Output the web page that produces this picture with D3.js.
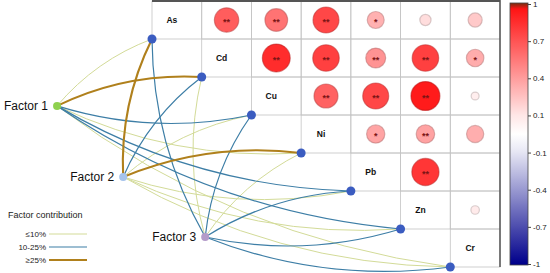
<!DOCTYPE html>
<html>
<head>
<meta charset="utf-8">
<script src="https://cdn.jsdelivr.net/npm/d3@7"></script>
<style>
body { margin: 0; background: #fff; }
svg text { font-family: "Liberation Sans", Arial, sans-serif; }
</style>
</head>
<body>
<div class="chart"></div>
<script>
/* The data */
//Elements on the diagonal of the correlation matrix
const elements = ["As", "Cd", "Cu", "Ni", "Pb", "Zn", "Cr"];

//Upper triangle of the correlation matrix, row by row (null = lower triangle)
const corrValues = [
    [null, 0.66, 0.57, 0.75, 0.32, 0.14, 0.22],
    [null, null, 0.86, 0.78, 0.44, 0.78, 0.34],
    [null, null, null, 0.64, 0.75, 0.93, 0.07],
    [null, null, null, null, 0.37, 0.38, 0.33],
    [null, null, null, null, null, 0.82, 0.00],
    [null, null, null, null, null, null, 0.08],
    [null, null, null, null, null, null, null]
];

//Significance marks for the same cells
const corrSignif = [
    ["", "**", "**", "**", "*", "", ""],
    ["", "", "**", "**", "**", "**", "*"],
    ["", "", "", "**", "**", "**", ""],
    ["", "", "", "", "*", "**", ""],
    ["", "", "", "", "", "**", ""],
    ["", "", "", "", "", "", ""],
    ["", "", "", "", "", "", ""]
];

//Factors and their contribution class to every element
const factors = ["Factor 1", "Factor 2", "Factor 3"];
const contribLevels = ["≤10%", "10-25%", "≥25%"];
const contribution = [
    ["≤10%", "≥25%", "10-25%", "≤10%", "10-25%", "10-25%", "≤10%"],
    ["≥25%", "10-25%", "≤10%", "≥25%", "≤10%", "≤10%", "≤10%"],
    ["10-25%", "≤10%", "10-25%", "≤10%", "10-25%", "10-25%", "10-25%"]
];

//Colour bar tick labels
const barTicks = [1, 0.7, 0.4, 0.1, -0.1, -0.4, -0.7, -1];


/* The View */
function CorrNetworkView(element, configuration) {
    //Set the element to draw to
    this.root = element;
    this.configuration = configuration;

    //Matrix units -> pixels (one unit = one cell)
    var m = configuration.matrix;
    this.col = d3.scaleLinear().domain([0, elements.length]).range([m.left, m.right]);
    this.row = d3.scaleLinear().domain([0, elements.length]).range([m.top, m.bottom]);

    //Circle size and colour
    this.radius = d3.scaleSqrt().domain([0, 1]).range([0, 15]);
    this.color = d3.scaleLinear()
        .domain([-1, 0, 0.96, 1])
        .range(["#00008b", "#ffffff", "#ff1414", "#8b2a10"]);
}

CorrNetworkView.prototype.render = function() {
    this.renderCanvas();
    this.renderMatrix();
    this.renderLinks();
    this.renderNodes();
    this.renderLegend();
    this.renderColorBar();
}

CorrNetworkView.prototype.renderCanvas = function() {
    this.svg = d3.select(this.root)
        .append("svg")
            .attr("width", this.configuration.width)
            .attr("height", this.configuration.height)
            .style("background-color", "#FFF");
}

CorrNetworkView.prototype.renderMatrix = function() {
    var self = this;
    var m = this.configuration.matrix;
    var cw = this.col(1) - this.col(0);
    var ch = this.row(1) - this.row(0);

    //Upper triangle cells (diagonal included)
    var cells = [];
    elements.forEach(function(a, i) {
        elements.forEach(function(b, j) {
            if (j >= i) cells.push({ i: i, j: j, v: corrValues[i][j], s: corrSignif[i][j] });
        });
    });

    var g = this.svg.append("g");

    g.selectAll("rect.cell")
        .data(cells)
        .join("rect")
            .attr("class", "cell")
            .attr("x", d => self.col(d.j))
            .attr("y", d => self.row(d.i))
            .attr("width", cw)
            .attr("height", ch)
            .attr("fill", "none")
            .attr("stroke", "#c4c4c4")
            .attr("stroke-width", 0.8);

    //Outer frame on top and right
    g.append("line")
        .attr("x1", m.left).attr("x2", m.right)
        .attr("y1", m.top).attr("y2", m.top)
        .attr("stroke", "#555").attr("stroke-width", 2);
    g.append("line")
        .attr("x1", m.right).attr("x2", m.right)
        .attr("y1", 0).attr("y2", m.bottom)
        .attr("stroke", "#555").attr("stroke-width", 1.5);

    //Circles
    var off = cells.filter(d => d.j > d.i && d.v);
    g.selectAll("circle.corr")
        .data(off)
        .join("circle")
            .attr("class", "corr")
            .attr("cx", d => self.col(d.j + 0.5))
            .attr("cy", d => self.row(d.i + 0.5))
            .attr("r", d => self.radius(Math.abs(d.v)))
            .attr("fill", d => self.color(d.v))
            .attr("stroke", d => d3.color(self.color(d.v)).darker(0.9))
            .attr("stroke-opacity", 0.55)
            .attr("stroke-width", 1.2);

    g.selectAll("text.sig")
        .data(off.filter(d => d.s))
        .join("text")
            .attr("class", "sig")
            .attr("x", d => self.col(d.j + 0.5))
            .attr("y", d => self.row(d.i + 0.5) + 5)
            .attr("text-anchor", "middle")
            .attr("font-size", 9)
            .attr("font-weight", "bold")
            .attr("fill", "#7a1414")
            .text(d => d.s);

    //Diagonal labels
    g.selectAll("text.diag")
        .data(elements)
        .join("text")
            .attr("class", "diag")
            .attr("x", (d, i) => self.col(i + 0.5) - 5)
            .attr("y", (d, i) => self.row(i + 0.5))
            .attr("dy", "0.35em")
            .attr("text-anchor", "middle")
            .attr("font-size", 8.5)
            .attr("font-weight", "bold")
            .attr("fill", "#111")
            .text(d => d);
}

CorrNetworkView.prototype.elementPos = function(i) {
    //Element node sits at the bottom-left corner of its diagonal cell
    return [this.col(i), this.row(i + 1)];
}

CorrNetworkView.prototype.factorPos = function(k) {
    var a = this.configuration.factorAnchor[k];
    return [this.col(a[0]), this.row(a[1])];
}

CorrNetworkView.prototype.renderLinks = function() {
    var self = this;
    var styles = this.configuration.linkStyles;

    var links = [];
    factors.forEach(function(f, k) {
        elements.forEach(function(e, i) {
            links.push({ k: k, i: i, level: contribLevels.indexOf(contribution[k][i]) });
        });
    });
    //Stronger links on top
    links.sort((a, b) => a.level - b.level);

    function curve(d) {
        var p0 = self.factorPos(d.k), p1 = self.elementPos(d.i);
        var dx = p1[0] - p0[0], dy = p1[1] - p0[1];
        //Bend upwards when the target rises, downwards otherwise
        var s = dy < -0.1 * Math.abs(dx) ? 1 : -1;
        var k = 0.13 * s;
        var cx = (p0[0] + p1[0]) / 2 + k * dy;
        var cy = (p0[1] + p1[1]) / 2 - k * dx;
        var path = d3.path();
        path.moveTo(p0[0], p0[1]);
        path.quadraticCurveTo(cx, cy, p1[0], p1[1]);
        return path.toString();
    }

    this.svg.append("g")
        .selectAll("path")
        .data(links)
        .join("path")
            .attr("d", curve)
            .attr("fill", "none")
            .attr("stroke", d => styles[d.level].color)
            .attr("stroke-width", d => styles[d.level].width);
}

CorrNetworkView.prototype.renderNodes = function() {
    var self = this;
    var cfg = this.configuration;
    var g = this.svg.append("g");

    g.selectAll("circle.el")
        .data(elements)
        .join("circle")
            .attr("class", "el")
            .attr("cx", (d, i) => self.elementPos(i)[0])
            .attr("cy", (d, i) => self.elementPos(i)[1])
            .attr("r", 4.5)
            .attr("fill", "#3b5cc0");

    g.selectAll("circle.fac")
        .data(factors)
        .join("circle")
            .attr("class", "fac")
            .attr("cx", (d, k) => self.factorPos(k)[0])
            .attr("cy", (d, k) => self.factorPos(k)[1])
            .attr("r", 4)
            .attr("fill", (d, k) => cfg.factorColors[k]);

    g.selectAll("text.fac")
        .data(factors)
        .join("text")
            .attr("class", "fac")
            .attr("x", (d, k) => self.factorPos(k)[0] - 9)
            .attr("y", (d, k) => self.factorPos(k)[1])
            .attr("dy", "0.35em")
            .attr("text-anchor", "end")
            .attr("font-size", 12)
            .attr("fill", "#111")
            .text(d => d);
}

CorrNetworkView.prototype.renderLegend = function() {
    var styles = this.configuration.linkStyles;
    var g = this.svg.append("g");

    g.append("text")
        .attr("x", 8)
        .attr("y", 218)
        .attr("font-size", 9)
        .attr("fill", "#222")
        .text("Factor contribution");

    var item = g.selectAll("g.item")
        .data(contribLevels)
        .join("g")
            .attr("class", "item")
            .attr("transform", (d, i) => `translate(0, ${234 + i * 13})`);

    item.append("text")
        .attr("x", 46)
        .attr("dy", "0.35em")
        .attr("text-anchor", "end")
        .attr("font-size", 8)
        .attr("fill", "#222")
        .text(d => d);

    item.append("line")
        .attr("x1", 49).attr("x2", 87)
        .attr("stroke", (d, i) => styles[i].color)
        .attr("stroke-width", (d, i) => styles[i].width);
}

CorrNetworkView.prototype.renderColorBar = function() {
    var self = this;
    var bar = this.configuration.colorBar;

    //Ticks are evenly spaced although the labels are not
    var y = d3.scaleLinear()
        .domain([-1, -0.1, 0.1, 1])
        .range([bar.bottom, bar.bottom - (bar.bottom - bar.top) * 3 / 7,
                bar.top + (bar.bottom - bar.top) * 3 / 7, bar.top]);

    var top = bar.top - 1, h = bar.bottom - bar.top + 2;
    var grad = this.svg.append("defs")
        .append("linearGradient")
            .attr("id", "bar")
            .attr("x1", 0).attr("x2", 0).attr("y1", 0).attr("y2", 1);
    grad.selectAll("stop")
        .data(d3.range(1, -1.001, -0.02).concat([0.97, 0.96]).sort((a, b) => b - a))
        .join("stop")
            .attr("offset", d => (y(d) - top) / h)
            .attr("stop-color", d => self.color(d));

    this.svg.append("rect")
        .attr("x", bar.x)
        .attr("y", top)
        .attr("width", bar.width)
        .attr("height", h)
        .attr("fill", "url(#bar)")
        .attr("stroke", "#444")
        .attr("stroke-width", 0.8);

    var axis = this.svg.append("g")
        .attr("transform", `translate(${bar.x + bar.width}, 0)`)
        .call(d3.axisRight(y).tickValues(barTicks).tickSize(3).tickPadding(2)
            .tickFormat(d => String(d)));
    axis.select(".domain").remove();
    axis.selectAll("line").attr("stroke", "#444");
    axis.selectAll("text")
        .attr("font-size", 8)
        .attr("fill", "#222")
        .style("font-family", "'Liberation Sans', Arial, sans-serif");
}


//Initialize application
const configuration = {
    width: 550,
    height: 273,
    matrix: { left: 152, right: 500, top: 1, bottom: 267 },
    //Factor nodes in matrix units (column, row)
    factorAnchor: [[-1.91, 2.76], [-0.58, 4.63], [1.07, 6.21]],
    factorColors: ["#8fd14f", "#a5c3ec", "#b39bc9"],
    linkStyles: [
        { color: "#d3db98", width: 1 },
        { color: "#3d7ea6", width: 1.2 },
        { color: "#b0801c", width: 2.1 }
    ],
    colorBar: { x: 510, width: 18, top: 4, bottom: 264 }
}
Object.freeze(configuration);

const app = (function() {
    var view = new CorrNetworkView(".chart", configuration);
    view.render();
    return { view: view };
})();
</script>
</body>
</html>
